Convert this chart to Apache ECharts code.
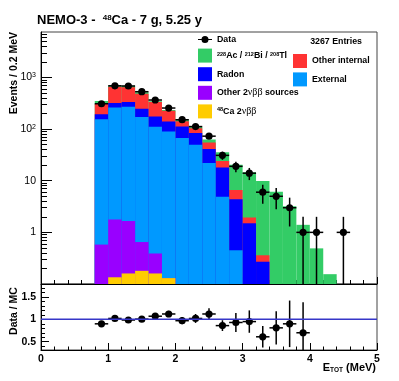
<!DOCTYPE html>
<html>
<head>
<meta charset="utf-8">
<script src="https://cdn.jsdelivr.net/npm/echarts@6/dist/echarts.min.js"></script>
<style>
  html, body { margin: 0; padding: 0; background: #fff; }
  #chart { width: 399px; height: 381px; }
</style>
</head>
<body>
<div id="chart"></div>
<script>
// MC bins, 0.2 MeV wide (centres in MeV)
const mcCentres = [0.9, 1.1, 1.3, 1.5, 1.7, 1.9, 2.1, 2.3, 2.5, 2.7, 2.9, 3.1, 3.3, 3.5, 3.7, 3.9, 4.1, 4.3]
const ca48      = [0.03, 0.135, 0.16, 0.18, 0.16, 0.13, 0, 0, 0, 0, 0, 0, 0, 0, 0, 0, 0, 0]
const other2nu  = [0.55, 1.65, 1.5, 0.47, 0.23, 0, 0, 0, 0, 0, 0, 0, 0, 0, 0, 0, 0, 0]
const external  = [155, 261, 269, 170, 111, 90, 67, 50, 22, 4.9, 0.45, 0.04, 0, 0, 0, 0, 0, 0]
const radon     = [39, 57, 63, 77, 64, 50, 45, 34, 19, 13.1, 3.95, 1.46, 0.27, 0, 0, 0, 0, 0]
const otherInt  = [111, 343, 316, 236, 158, 87, 30, 20, 14, 6, 2.2, 0.45, 0.09, 0, 0, 0, 0, 0]
const tl208     = [44, 30, 38, 34, 14, 8, 10, 6, 8, 11.7, 13.7, 12.6, 9.5, 6.1, 3.2, 1.4, 0.49, 0.155]

// measured data
const dataCentres = [0.9, 1.1, 1.3, 1.5, 1.7, 1.9, 2.1, 2.3, 2.5, 2.7, 2.9, 3.1, 3.3, 3.5, 3.7, 3.9, 4.1, 4.5]
const dataCounts  = [310, 690, 684, 530, 366, 256, 152, 112, 73, 31, 19, 14, 6, 5, 3, 1, 1, 1]
const dataErr     = [17.6, 26.3, 26.2, 23, 19.1, 16, 12.3, 10.6, 8.5, 5.6, 4.4, 3.7, 2.4, 2.2, 1.7, 1, 1, 1]

// data / MC
const ratioCentres = [0.9, 1.1, 1.3, 1.5, 1.7, 1.9, 2.1, 2.3, 2.5, 2.7, 2.9, 3.1, 3.3, 3.5, 3.7, 3.9]
const ratio        = [0.90, 1.02, 0.985, 1.005, 1.07, 1.12, 0.97, 1.02, 1.12, 0.86, 0.93, 0.95, 0.61, 0.81, 0.90, 0.70]
const ratioErr     = [0.05, 0.04, 0.04, 0.045, 0.055, 0.07, 0.08, 0.10, 0.13, 0.12, 0.21, 0.25, 0.24, 0.37, 0.52, 0.68]

// ticks
const yMajorTicks = [0.1, 1, 10, 100, 1000]
const yLabels = [1, 10, 100, 1000]
const yMinorTicks = [0.2, 0.3, 0.4, 0.5, 0.6, 0.7, 0.8, 0.9, 2, 3, 4, 5, 6, 7, 8, 9,
  20, 30, 40, 50, 60, 70, 80, 90, 200, 300, 400, 500, 600, 700, 800, 900, 2000, 3000, 4000, 5000, 6000, 7000]
const ratioLabels = [0.5, 1, 1.5]
const ratioMinorTicks = [0.4, 0.6, 0.7, 0.8, 0.9, 1.1, 1.2, 1.3, 1.4, 1.6, 1.7]

const FONT = 'Liberation Sans'
const binHalf = 0.1

const components = [
  { name: 'ca48', values: ca48, color: '#ffcc00' },
  { name: 'other2nu', values: other2nu, color: '#9900ff' },
  { name: 'external', values: external, color: '#0099ff' },
  { name: 'radon', values: radon, color: '#0000ff' },
  { name: 'otherInt', values: otherInt, color: '#ff3333' },
  { name: 'tl', values: tl208, color: '#33cc66' }
]
let running = mcCentres.map(() => 0)
components.forEach(c => {
  running = running.map((r, i) => r + c.values[i])
  c.cumulative = running.slice()
})

function histItem(params, api) {
  const top = api.value(2)
  if (!(top > 0)) return null
  const cs = params.coordSys
  const bottom = cs.y + cs.height
  const p0 = api.coord([api.value(0), top])
  const p1 = api.coord([api.value(1), top])
  if (p0[1] >= bottom) return null
  const y = Math.max(p0[1], cs.y)
  return {
    type: 'rect',
    shape: { x: p0[0], y: y, width: p1[0] - p0[0], height: bottom - y },
    style: { fill: api.visual('color') }
  }
}

function pointItem(params, api) {
  const x = api.value(0), v = api.value(1), e = api.value(2)
  const cs = params.coordSys
  const bottom = cs.y + cs.height
  const c = api.coord([x, v])
  const l = api.coord([x - binHalf, v])
  const r = api.coord([x + binHalf, v])
  const hi = api.coord([x, v + e])
  const lowVal = v - e
  let lo = lowVal > 0 ? api.coord([x, lowVal])[1] : bottom
  if (!isFinite(lo) || lo > bottom) lo = bottom
  const st = { stroke: '#000', lineWidth: 1.5 }
  return {
    type: 'group',
    children: [
      { type: 'line', shape: { x1: l[0], y1: c[1], x2: r[0], y2: c[1] }, style: st },
      { type: 'line', shape: { x1: c[0], y1: Math.max(hi[1], cs.y), x2: c[0], y2: lo }, style: st },
      { type: 'circle', shape: { cx: c[0], cy: c[1], r: 3.6 }, style: { fill: '#000' } }
    ]
  }
}

const histSeries = components.slice().reverse().map(c => ({
  name: c.name,
  type: 'custom',
  xAxisIndex: 0,
  yAxisIndex: 0,
  clip: true,
  silent: true,
  itemStyle: { color: c.color },
  encode: { x: [0, 1], y: 2 },
  renderItem: histItem,
  data: mcCentres.map((m, i) => [m - binHalf, m + binHalf, c.cumulative[i]]).filter(d => d[2] > 0)
}))

const legendNames = {
  Data: 'Data',
  tl: '{sup|228}Ac / {sup|212}Bi / {sup|208}Tl',
  otherInt: 'Other internal',
  radon: 'Radon',
  external: 'External',
  other2nu: 'Other 2{g|νββ} sources',
  ca48: '{sup|48}Ca 2{g|νββ}'
}
const legendText = {
  fontFamily: FONT, fontSize: 8.8, fontWeight: 'bold', color: '#000',
  rich: {
    sup: { fontSize: 5.5, fontWeight: 'bold', fontFamily: FONT, verticalAlign: 'top' },
    g: { fontSize: 10, fontFamily: 'Liberation Serif', fontWeight: 'normal' }
  }
}
const tickFont = { fontFamily: FONT, fontSize: 10.5, fontWeight: 'bold', color: '#000' }

const chart = echarts.init(document.getElementById('chart'), null, { renderer: 'canvas' })
chart.setOption({
  backgroundColor: '#fff',
  animation: false,
  title: {
    text: 'NEMO-3 -  {sup|48}Ca - 7 g, 5.25 y',
    left: 37,
    top: 14,
    padding: 0,
    textStyle: {
      fontFamily: FONT, fontSize: 13, fontWeight: 'bold', color: '#000',
      rich: { sup: { fontFamily: FONT, fontSize: 8, fontWeight: 'bold', verticalAlign: 'top' } }
    }
  },
  legend: [
    {
      data: [
        { name: 'Data', icon: 'path://M0,6.4H14V7.6H0Z M3.5,7A3.5,3.5,0,1,1,10.5,7A3.5,3.5,0,1,1,3.5,7Z' },
        'tl', 'radon', 'other2nu', 'ca48'
      ],
      orient: 'vertical', left: 198, top: 35, padding: 0,
      itemWidth: 14, itemHeight: 14, itemGap: 4.6, icon: 'rect',
      selectedMode: false,
      formatter: n => legendNames[n],
      textStyle: legendText
    },
    {
      data: ['otherInt', 'external'],
      orient: 'vertical', left: 293, top: 54, padding: 0,
      itemWidth: 14, itemHeight: 14, itemGap: 4.4, icon: 'rect',
      selectedMode: false,
      formatter: n => legendNames[n],
      textStyle: legendText
    }
  ],
  graphic: [
    { type: 'text', x: 362, y: 42, style: { text: '3267 Entries', font: 'bold 8.8px "Liberation Sans"', fill: '#000', textAlign: 'right', textVerticalAlign: 'middle' } },
    { type: 'text', x: 14, y: 32, rotation: Math.PI / 2, style: { text: 'Events / 0.2 MeV', font: 'bold 10.5px "Liberation Sans"', fill: '#000', textAlign: 'right', textVerticalAlign: 'middle' } },
    { type: 'text', x: 14, y: 311, rotation: Math.PI / 2, style: { text: 'Data / MC', font: 'bold 10.5px "Liberation Sans"', fill: '#000', textAlign: 'center', textVerticalAlign: 'middle' } },
    {
      type: 'text', x: 376, y: 368,
      style: {
        text: 'E{sub|TOT} (MeV)', fontFamily: FONT, fontSize: 11, fontWeight: 'bold', fill: '#000',
        textAlign: 'right', textVerticalAlign: 'middle',
        rich: { sub: { fontFamily: FONT, fontSize: 6.5, fontWeight: 'bold', verticalAlign: 'bottom' } }
      }
    }
  ],
  grid: [
    { left: 41, top: 32, width: 336, height: 252, show: true, borderColor: '#444', borderWidth: 1, backgroundColor: 'transparent' },
    { left: 41, top: 284, width: 336, height: 66, show: true, borderColor: '#444', borderWidth: 1, backgroundColor: 'transparent' }
  ],
  xAxis: [
    {
      type: 'value', gridIndex: 0, min: 0, max: 5, interval: 1,
      axisLine: { lineStyle: { color: '#000' } },
      axisTick: { inside: true, length: 7, lineStyle: { color: '#000' } },
      minorTick: { show: true, splitNumber: 5, length: 4, lineStyle: { color: '#000' } },
      axisLabel: { show: false },
      splitLine: { show: false }
    },
    {
      type: 'value', gridIndex: 1, min: 0, max: 5, interval: 1,
      axisLine: { lineStyle: { color: '#000' } },
      axisTick: { inside: true, length: 7, lineStyle: { color: '#000' } },
      minorTick: { show: true, splitNumber: 5, length: 3.5, lineStyle: { color: '#000' } },
      axisLabel: Object.assign({ margin: 4 }, tickFont),
      splitLine: { show: false }
    }
  ],
  yAxis: [
    {
      type: 'log', gridIndex: 0, min: 0.1, max: 7600, logBase: 10,
      axisLine: { show: true, lineStyle: { color: '#000' } },
      axisTick: { show: true, inside: true, length: 11, customValues: yMajorTicks, lineStyle: { color: '#000' } },
      axisLabel: {
        customValues: yLabels, margin: 5,
        fontFamily: FONT, fontSize: 10.5, color: '#000',
        formatter: v => v >= 100 ? '10{sup|' + Math.round(Math.log10(v)) + '}' : String(Math.round(v)),
        rich: { sup: { fontFamily: FONT, fontSize: 7, verticalAlign: 'top' } }
      },
      splitLine: { show: false }
    },
    {
      type: 'log', gridIndex: 0, min: 0.1, max: 7600, logBase: 10, position: 'left', offset: 0,
      axisLine: { show: false },
      axisTick: { show: true, inside: true, length: 6, customValues: yMinorTicks, lineStyle: { color: '#000' } },
      axisLabel: { show: false },
      splitLine: { show: false }
    },
    {
      type: 'value', gridIndex: 1, min: 0.315, max: 1.79,
      axisLine: { show: true, lineStyle: { color: '#000' } },
      axisTick: { show: true, inside: true, length: 8, customValues: ratioLabels, lineStyle: { color: '#000' } },
      axisLabel: Object.assign({ customValues: ratioLabels, margin: 5 }, tickFont),
      splitLine: { show: false }
    },
    {
      type: 'value', gridIndex: 1, min: 0.315, max: 1.79, position: 'left', offset: 0,
      axisLine: { show: false },
      axisTick: { show: true, inside: true, length: 4, customValues: ratioMinorTicks, lineStyle: { color: '#000' } },
      axisLabel: { show: false },
      splitLine: { show: false }
    }
  ],
  series: histSeries.concat([
    {
      name: 'Data',
      type: 'custom',
      xAxisIndex: 0,
      yAxisIndex: 0,
      silent: true,
      itemStyle: { color: '#000' },
      encode: { x: 0, y: 1 },
      renderItem: pointItem,
      data: dataCentres.map((c, i) => [c, dataCounts[i], dataErr[i]])
    },
    {
      name: 'unity',
      type: 'line',
      xAxisIndex: 1,
      yAxisIndex: 2,
      silent: true,
      symbol: 'none',
      lineStyle: { color: '#3636c8', width: 1.5 },
      data: [[0, 1], [5, 1]]
    },
    {
      name: 'ratio',
      type: 'custom',
      xAxisIndex: 1,
      yAxisIndex: 2,
      silent: true,
      clip: false,
      itemStyle: { color: '#000' },
      encode: { x: 0, y: 1 },
      renderItem: pointItem,
      data: ratioCentres.map((c, i) => [c, ratio[i], ratioErr[i]])
    }
  ])
})
</script>
</body>
</html>
